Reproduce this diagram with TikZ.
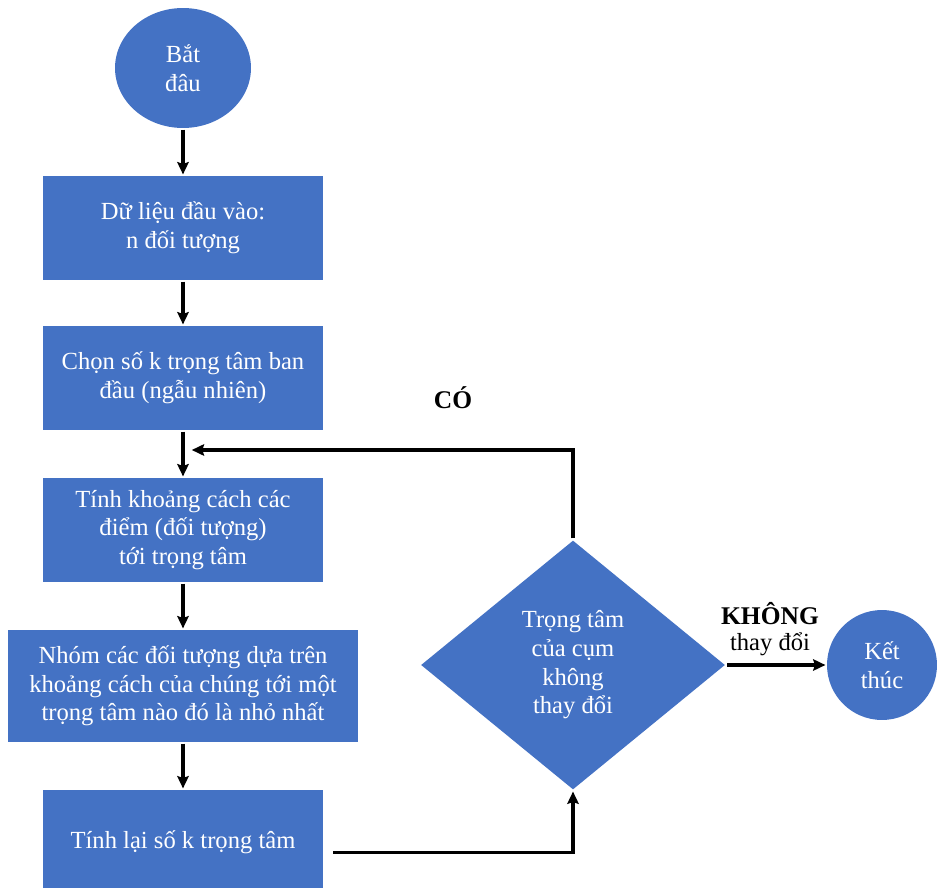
\documentclass[tikz,border=0pt]{standalone}
\usepackage{fontspec}
\setmainfont{Liberation Serif}
\usetikzlibrary{shapes.geometric,arrows.meta}

\definecolor{xanh}{HTML}{4472C4}

\begin{document}
\begin{tikzpicture}[x=0.02cm, y=-0.02cm, >={Stealth[length=7pt,width=6.5pt,inset=1pt]},
	line width=1.8pt, font=\fontsize{14}{16.3}\selectfont,
	khoi/.style={fill=xanh, text=white, align=center, minimum width=5.6cm, minimum height=2.08cm, inner sep=2pt},
	batdaukt/.style={ellipse, fill=xanh, text=white, align=center, inner sep=0pt},
	quyetdinh/.style={diamond, fill=xanh, text=white, align=center, minimum width=6.1cm, minimum height=5cm, inner sep=0pt},
	nhan/.style={font=\fontsize{14.5}{17}\selectfont\bfseries}]
	\useasboundingbox (0,0) rectangle (937,888);
	% cac khoi
	\node[batdaukt, minimum width=2.72cm, minimum height=2.4cm] (batdau) at (183,68) {Bắt\\đâu};
	\node[khoi] (dulieu) at (183,228) {Dữ liệu đầu vào:\\n đối tượng};
	\node[khoi] (chon) at (183,378) {Chọn số k trọng tâm ban\\đầu (ngẫu nhiên)};
	\node[khoi] (tinh) at (183,530) {Tính khoảng cách các\\điểm (đối tượng)\\tới trọng tâm};
	\node[khoi, minimum width=7cm, minimum height=2.24cm] (nhom) at (183,686) {Nhóm các đối tượng dựa trên\\khoảng cách của chúng tới một\\trọng tâm nào đó là nhỏ nhất};
	\node[khoi] (tinhlai) at (183,842) {Tính lại số k trọng tâm};
	\node[quyetdinh] (dieukien) at (573,665) {Trọng tâm\\của cụm\\không\\thay đổi};
	\node[batdaukt, minimum width=2.2cm, minimum height=2.2cm] (ketthuc) at (882,665) {Kết\\thúc};
	\coordinate (noi) at (183,450);
	% nhan
	\node[nhan] (co) at (453,398) {CÓ};
	\node[nhan] (khong) at (770,614) {KHÔNG};
	\node (thaydoi) at (770,644) {thay đổi};
	% mui ten
	\draw[->] (batdau) -- (dulieu);
	\draw[->] (dulieu) -- (chon);
	\draw (chon) -- (noi);
	\draw[->] (noi) -- (tinh);
	\draw[->] (tinh) -- (nhom);
	\draw[->] (nhom) -- (tinhlai);
	\draw[->, shorten <=5pt] ([yshift=-6pt]tinhlai.east) -| (dieukien.south);
	\draw[->, shorten >=5pt] (dieukien.north) |- (noi);
	\draw[->] (dieukien.east) -- (ketthuc.west);
\end{tikzpicture}
\end{document}
